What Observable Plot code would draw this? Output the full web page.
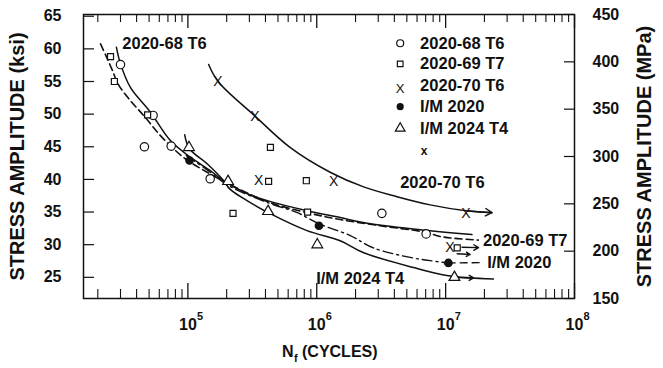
<!DOCTYPE html>
<html><head><meta charset="utf-8">
<script src="https://cdn.jsdelivr.net/npm/d3@7"></script>
<script src="https://cdn.jsdelivr.net/npm/@observablehq/plot@0.6"></script>
<style>body{margin:0;background:#fff} svg{font-family:"Liberation Sans",Arial,sans-serif}</style>
</head><body><div id="chart"></div>
<script>
// ---------- data (N cycles, stress amplitude ksi) ----------
const n68 = [30000, 53700, 46000, 74200, 149000, 3.2e6, 7.06e6];
const s68 = [57.6, 49.8, 45.0, 45.1, 40.1, 34.8, 31.65];
const n69 = [25100, 26900, 48700, 437000, 423000, 830000, 224000, 849000, 1.23e7];
const s69 = [58.8, 55.0, 49.9, 44.9, 39.7, 39.8, 34.8, 35.0, 29.5];
const n70 = [171000, 332000, 354000, 1.35e6, 1.44e7, 1.08e7];
const s70 = [55.0, 49.7, 39.8, 39.7, 34.8, 29.5];
const nIM20 = [103000, 1.04e6, 1.05e7];
const sIM20 = [42.9, 32.9, 27.2];
const nIM24 = [102000, 205000, 419000, 1.01e6, 1.17e7];
const sIM24 = [44.9, 39.7, 35.1, 30.0, 25.0];

// fitted curves
const c68N = [27900, 30000, 35800, 51200, 73100, 104500, 149300, 188400, 289000, 413000, 843000, 1.52e6, 2.29e6, 5.6e6, 1.6e7];
const c68S = [60.24, 57.7, 54.1, 50.3, 45.95, 43.4, 41.35, 39.8, 37.8, 36.75, 35.2, 34.15, 33.4, 32.4, 31.55];
const c69N = [21000, 23300, 26000, 28900, 35800, 46900, 61200, 92300, 141000, 213000, 413000, 843000, 1.52e6, 3.1e6, 7.19e6, 9.06e6, 1.79e7];
const c69S = [60.76, 58.82, 56.67, 54.53, 52.08, 49.47, 46.71, 43.39, 41.09, 39.2, 36.6, 34.9, 33.85, 32.9, 31.85, 31.25, 30.7];
const c70N = [144900, 171400, 331900, 623700, 1.27e6, 2.31e6, 4.19e6, 7.59e6, 1.44e7, 2.29e7];
const c70S = [57.6, 55.0, 49.7, 44.87, 41.1, 38.85, 37.35, 36.1, 35.2, 34.9];
const cIM20N = [97300, 136800, 213300, 436500, 706300, 1.04e6, 1.82e6, 2.75e6, 5.31e6, 7.59e6, 1.045e7];
const cIM20S = [43.65, 41.65, 38.9, 36.3, 34.9, 33.2, 31.4, 29.5, 28.05, 27.55, 27.2];
const cIM20extN = [1.045e7, 1.95e7];
const cIM20extS = [27.2, 27.25];
const cIM24N = [94400, 102800, 141000, 189700, 210900, 287700, 420700, 839500, 1.52e6, 2.29e6, 5.62e6, 1.05e7, 2.35e7];
const cIM24S = [46.85, 44.7, 42.4, 39.8, 38.55, 36.75, 34.9, 32.15, 30.6, 28.8, 26.5, 25.25, 24.75];

// run-out arrows [N1, S1, N2, S2]
const runouts = [
  [1.5e7, 35.15, 2.29e7, 34.9],
  [1.34e7, 29.6, 1.8e7, 29.55],
  [1.23e7, 28.6, 1.55e7, 28.5],
  [1.25e7, 24.95, 1.65e7, 24.9]
];

// ticks
const ksiTicks = [25, 30, 35, 40, 45, 50, 55, 60, 65];
const mpaTicks = [150, 200, 250, 300, 350, 400, 450];
const decades = [1e5, 1e6, 1e7, 1e8];
const decadeExp = ["5", "6", "7", "8"];
const KSI_PER_MPA = 1 / 6.895;

// curve labels
const curveLabels = ["2020-68 T6", "2020-70 T6", "2020-69 T7", "I/M 2020", "I/M 2024 T4"];
const curveLabelN = [31000, 4.44e6, 1.95e7, 2.1e7, 990000];
const curveLabelS = [60.75, 39.55, 30.6, 27.25, 24.8];

// legend
const legendLabels = ["2020-68 T6", "2020-69 T7", "2020-70 T6", "I/M 2020", "I/M 2024 T4"];
const legendS = [60.86, 57.7, 54.37, 51.15, 47.83];
const legendSymN = 4.44e6, legendTxtN = 6.34e6;

// ---------- build ----------
const zip = (a, b) => a.map((v, i) => ({N: v, S: b[i]}));
const ink = "#111";
const font = {fontFamily: "Liberation Sans, Arial, sans-serif", fontWeight: "bold"};
const mL = 83, mR = 89, mT = 14, mB = 70, W = 663, Hh = 368;
const fw = W - mL - mR, fh = Hh - mT - mB;

const minor = [];
for (let e = 4; e <= 7; e++) for (let m = 2; m <= 9; m++) minor.push(m * 10 ** e);

const chart = Plot.plot({
  width: W, height: Hh,
  marginLeft: mL, marginRight: mR, marginTop: mT, marginBottom: mB,
  x: {type: "log", domain: [10 ** 4.19, 1e8], axis: null},
  y: {domain: [150 * KSI_PER_MPA, 450 * KSI_PER_MPA], axis: null},
  style: {background: "#fff", color: ink, fontFamily: "Liberation Sans, Arial, sans-serif"},
  marks: [
    // inward ticks
    Plot.ruleY(ksiTicks, {y: d => d, insetRight: fw - 11, stroke: ink, strokeWidth: 1.2}),
    Plot.ruleY(mpaTicks.map(v => v * KSI_PER_MPA), {y: d => d, insetLeft: fw - 10, stroke: ink, strokeWidth: 1.2}),
    Plot.ruleX(minor, {x: d => d, insetTop: fh - 9, stroke: ink, strokeWidth: 1.1}),
    Plot.ruleX(decades, {x: d => d, insetTop: fh - 15, stroke: ink, strokeWidth: 1.3}),
    Plot.ruleX(minor, {x: d => d, insetBottom: fh - 8, stroke: ink, strokeWidth: 1.1}),
    Plot.ruleX(decades, {x: d => d, insetBottom: fh - 14, stroke: ink, strokeWidth: 1.3}),
    Plot.frame({stroke: ink, strokeWidth: 1.5}),
    // tick labels
    Plot.text(ksiTicks, {y: d => d, frameAnchor: "left", dx: -22, textAnchor: "end", text: d => String(d), fontSize: 16, ...font, fill: ink}),
    Plot.text(mpaTicks, {y: d => d * KSI_PER_MPA, frameAnchor: "right", dx: 18, textAnchor: "start", text: d => String(d), fontSize: 16, ...font, fill: ink}),
    Plot.text(decades, {x: d => d, frameAnchor: "bottom", dy: 31, textAnchor: "middle", text: () => "10", fontSize: 16, ...font, fill: ink}),
    Plot.text(decades, {x: d => d, frameAnchor: "bottom", dy: 21, dx: 9, textAnchor: "start", text: (d, i) => decadeExp[i], fontSize: 11, ...font, fill: ink}),
    // axis titles (via axis labels)
    Plot.axisY(ksiTicks, {anchor: "left", tickSize: 0, tickFormat: () => "", label: "STRESS AMPLITUDE (ksi)", labelAnchor: "center", labelOffset: 74, labelArrow: "none", dy: 12, fontSize: 20, fontWeight: "bold", fill: ink}),
    Plot.axisY(ksiTicks, {anchor: "right", tickSize: 0, tickFormat: () => "", label: "STRESS AMPLITUDE (MPa)", labelAnchor: "center", labelOffset: 76, labelArrow: "none", dy: 6, fontSize: 20, fontWeight: "bold", fill: ink}),
    Plot.text(["N"], {frameAnchor: "bottom", dy: 58, dx: -47, textAnchor: "start", text: d => d, fontSize: 16, ...font, fill: ink}),
    Plot.text(["f"], {frameAnchor: "bottom", dy: 63, dx: -35, textAnchor: "start", text: d => d, fontSize: 11, ...font, fill: ink}),
    Plot.text(["(CYCLES)"], {frameAnchor: "bottom", dy: 58, dx: -27, textAnchor: "start", text: d => d, fontSize: 16, ...font, fill: ink}),
    // curves
    Plot.line(zip(c68N, c68S), {x: "N", y: "S", curve: "catmull-rom", stroke: ink, strokeWidth: 1.5}),
    Plot.line(zip(c69N, c69S), {x: "N", y: "S", curve: "catmull-rom", stroke: ink, strokeWidth: 1.6, strokeDasharray: "7,4"}),
    Plot.line(zip(c70N, c70S), {x: "N", y: "S", curve: "catmull-rom", stroke: ink, strokeWidth: 1.5}),
    Plot.line(zip(cIM20N, cIM20S), {x: "N", y: "S", curve: "catmull-rom", stroke: ink, strokeWidth: 1.4, strokeDasharray: "10,4,2,4"}),
    Plot.line(zip(cIM20extN, cIM20extS), {x: "N", y: "S", stroke: ink, strokeWidth: 1.4, strokeDasharray: "7,5"}),
    Plot.line(zip(cIM24N, cIM24S), {x: "N", y: "S", curve: "catmull-rom", stroke: ink, strokeWidth: 1.5}),
    Plot.arrow(runouts, {x1: d => d[0], y1: d => d[1], x2: d => d[2], y2: d => d[3], stroke: ink, strokeWidth: 1.4, headLength: 8}),
    // data points
    Plot.dot(zip(n68, s68), {x: "N", y: "S", r: 4.2, stroke: ink, fill: "#fff", strokeWidth: 1.2}),
    Plot.dot(zip(n69, s69), {x: "N", y: "S", r: 3.4, symbol: "square", stroke: ink, fill: "#fff", strokeWidth: 1.2}),
    Plot.text(zip(n70, s70), {x: "N", y: "S", text: () => "X", fontSize: 14, fontFamily: "Liberation Sans, Arial, sans-serif", fill: ink}),
    Plot.dot(zip(nIM20, sIM20), {x: "N", y: "S", r: 3.6, fill: ink, stroke: ink}),
    Plot.dot(zip(nIM24, sIM24), {x: "N", y: "S", r: 4, symbol: "triangle", stroke: ink, fill: "#fff", strokeWidth: 1.2}),
    // curve labels
    Plot.text(curveLabels, {x: (d, i) => curveLabelN[i], y: (d, i) => curveLabelS[i], text: d => d, textAnchor: "start", fontSize: 16.5, ...font, fill: ink}),
    // legend
    Plot.dot([legendS[0]], {x: () => legendSymN, y: d => d, r: 3.5, stroke: ink, fill: "#fff", strokeWidth: 1.2}),
    Plot.dot([legendS[1]], {x: () => legendSymN, y: d => d, r: 3.2, symbol: "square", stroke: ink, fill: "#fff", strokeWidth: 1.2}),
    Plot.text([legendS[2]], {x: () => legendSymN, y: d => d, dy: 3, text: () => "X", fontSize: 13, fill: ink}),
    Plot.dot([legendS[3]], {x: () => legendSymN, y: d => d, r: 3.6, fill: ink}),
    Plot.dot([legendS[4]], {x: () => legendSymN, y: d => d, r: 3.6, symbol: "triangle", stroke: ink, fill: "#fff", strokeWidth: 1.2}),
    Plot.text(legendLabels, {x: () => legendTxtN, y: (d, i) => legendS[i], text: d => d, textAnchor: "start", fontSize: 16.5, ...font, fill: ink}),
    Plot.text(["x"], {x: () => 6.8e6, y: () => 44.38, text: d => d, fontSize: 12, ...font, fill: ink})
  ]
});
document.getElementById("chart").appendChild(chart);
</script></body></html>
